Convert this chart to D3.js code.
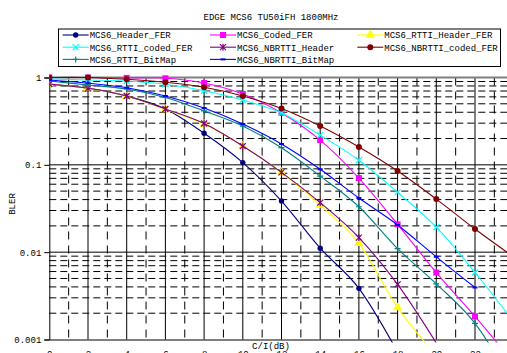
<!DOCTYPE html>
<meta charset="utf-8">
<script src="https://d3js.org/d3.v7.min.js"></script>
<style>
  body { margin: 0; background: #fff; }
  text { font-family: "Liberation Mono", monospace; font-size: 9px; fill: #000; }
</style>
<div id="my_dataviz"></div>
<script>

// x values (C/I in dB)
var ciValues = [0, 2, 4, 6, 8, 10, 12, 14, 16, 18, 20, 22, 24];

// BLER values, one array per series
var headerFer      = [0.842, 0.752, 0.614, 0.436, 0.230, 0.106, 0.0385, 0.0111, 0.00385, 0.00072];
var codedFer       = [1.0, 1.0, 0.99, 0.98, 0.865, 0.647, 0.392, 0.192, 0.0705, 0.0208, 0.00584, 0.00184, 0.00054];
var rttiHeaderFer  = [0.842, 0.748, 0.614, 0.430, 0.293, 0.164, 0.0817, 0.0346, 0.0126, 0.00232, 0.00066];
var rttiCodedFer   = [0.96, 0.936, 0.912, 0.836, 0.706, 0.552, 0.392, 0.219, 0.113, 0.0484, 0.0193, 0.00585, 0.00159];
var nbrttiHeader   = [0.842, 0.752, 0.614, 0.436, 0.297, 0.164, 0.0820, 0.0369, 0.0147, 0.00427, 0.00091];
var nbrttiCodedFer = [1.0, 1.0, 0.954, 0.881, 0.772, 0.614, 0.441, 0.278, 0.160, 0.0850, 0.0405, 0.0184, 0.0088];
var rttiBitmap     = [0.912, 0.821, 0.738, 0.590, 0.414, 0.278, 0.157, 0.0743, 0.0331, 0.0110, 0.00433, 0.00153, 0.0003];
var nbrttiBitmap   = [0.936, 0.858, 0.764, 0.614, 0.447, 0.293, 0.173, 0.0889, 0.0417, 0.0205, 0.00884, 0.00394];

var seriesNames  = ["MCS6_Header_FER", "MCS6_Coded_FER", "MCS6_RTTI_Header_FER",
                    "MCS6_RTTI_coded_FER", "MCS6_NBRTTI_Header", "MCS6_NBRTTI_coded_FER",
                    "MCS6_RTTI_BitMap", "MCS6_NBRTTI_BitMap"];
var seriesValues = [headerFer, codedFer, rttiHeaderFer, rttiCodedFer, nbrttiHeader, nbrttiCodedFer, rttiBitmap, nbrttiBitmap];
var seriesColors = ["#000080", "#ff00ff", "#ffff00", "#00ffff", "#800080", "#800000", "#008080", "#0000ff"];
var seriesMarks  = ["circle", "square", "triangle", "x", "star", "bigcircle", "plus", "dash"];

var xTicks = [0, 2, 4, 6, 8, 10, 12, 14, 16, 18, 20, 22];
var yTicks = [1, 0.1, 0.01, 0.001];

var width = 507, height = 353;
var svg = d3.select("#my_dataviz").append("svg")
    .attr("width", width).attr("height", height);

var x = d3.scaleLinear().domain([0, 24]).range([49.3, 513.7]);
var y = d3.scaleLog().domain([0.001, 1]).range([339.5, 77.5]);

// title
svg.append("text").attr("x", 271).attr("y", 20).attr("text-anchor", "middle")
  .text("EDGE MCS6 TU50iFH 1800MHz");

// grid
var grid = svg.append("g");
// minor horizontal
[0.001, 0.01, 0.1].forEach(function(d) {
  d3.range(2, 10).forEach(function(k) {
    grid.append("line")
      .attr("x1", x(0)).attr("x2", x(24))
      .attr("y1", y(d * k)).attr("y2", y(d * k))
      .attr("stroke", "#000").attr("stroke-width", 1)
      .attr("stroke-dasharray", "7,4");
  });
});
// minor vertical
d3.range(1, 24, 2).forEach(function(v) {
  grid.append("line")
    .attr("x1", x(v)).attr("x2", x(v))
    .attr("y1", y(1)).attr("y2", y(0.001))
    .attr("stroke", "#000").attr("stroke-dasharray", "8,6");
});
// major vertical
d3.range(2, 25, 2).forEach(function(v) {
  grid.append("line")
    .attr("x1", x(v)).attr("x2", x(v))
    .attr("y1", y(1)).attr("y2", y(0.001))
    .attr("stroke", "#000");
});
// major horizontal
[0.1, 0.01].forEach(function(d) {
  grid.append("line")
    .attr("x1", x(0)).attr("x2", x(24))
    .attr("y1", y(d)).attr("y2", y(d)).attr("stroke", "#000");
});
grid.append("line").attr("x1", x(0)).attr("x2", x(24))
  .attr("y1", y(1)).attr("y2", y(1)).attr("stroke", "#808080").attr("stroke-width", 2);

// axes
var yAxis = svg.append("g").attr("transform", "translate(" + x(0) + ",0)")
  .call(d3.axisLeft(y).tickValues(yTicks).tickSize(5).tickPadding(3)
    .tickFormat(function(d) { return d == 1 ? "1" : String(d); }));
yAxis.select(".domain").attr("stroke", "#000");
yAxis.selectAll("text").style("font-size", "9px").attr("dy", "0.32em");

var xAxis = svg.append("g").attr("transform", "translate(0," + y(0.001) + ")")
  .call(d3.axisBottom(x).tickValues(xTicks).tickSize(0).tickPadding(11));
xAxis.select(".domain").attr("stroke", "#000");
xAxis.selectAll("text").style("font-size", "9px");

svg.append("text").attr("x", 271).attr("y", 349).attr("text-anchor", "middle").text("C/I(dB)");
svg.append("text").attr("transform", "translate(15,204) rotate(-90)")
  .attr("text-anchor", "middle").text("BLER");

// clip
svg.append("clipPath").attr("id", "plotclip").append("rect")
  .attr("x", x(0)).attr("y", y(1) - 6).attr("width", x(24) - x(0)).attr("height", y(0.001) - y(1) + 9);

function drawMark(g, type, color) {
  var s = 3;
  if (type == "circle") {
    g.append("circle").attr("r", 2.7).attr("fill", color);
  } else if (type == "bigcircle") {
    g.append("circle").attr("r", 3).attr("fill", color);
  } else if (type == "square") {
    g.append("rect").attr("x", -3).attr("y", -3).attr("width", 6).attr("height", 6).attr("fill", color);
  } else if (type == "triangle") {
    g.append("path").attr("d", d3.symbol(d3.symbolTriangle, 38)()).attr("fill", color);
  } else if (type == "x") {
    g.append("path").attr("d", "M-3,-3L3,3M-3,3L3,-3").attr("stroke", color).attr("stroke-width", 1.2);
  } else if (type == "star") {
    g.append("path").attr("d", "M-3,-3L3,3M-3,3L3,-3M0,-3.5L0,3.5").attr("stroke", color).attr("stroke-width", 1.2);
  } else if (type == "plus") {
    g.append("path").attr("d", "M-3,0L3,0M0,-3L0,3").attr("stroke", color).attr("stroke-width", 1.2);
  } else if (type == "dash") {
    g.append("path").attr("d", "M-2.5,0L2.5,0").attr("stroke", color).attr("stroke-width", 2);
  }
}

var line = d3.line()
  .x(function(d) { return x(d.ci); })
  .y(function(d) { return y(d.v); })
  .curve(d3.curveCatmullRom.alpha(0));

var plot = svg.append("g").attr("clip-path", "url(#plotclip)");
seriesValues.forEach(function(vals, i) {
  var pts = vals.map(function(v, j) { return {ci: ciValues[j], v: v}; });
  plot.append("path").datum(pts)
    .attr("d", line).attr("fill", "none")
    .attr("stroke", seriesColors[i]).attr("stroke-width", 1.1);
  pts.filter(function(p) { return p.v >= 0.001; }).forEach(function(p) {
    var g = plot.append("g").attr("transform", "translate(" + x(p.ci) + "," + y(p.v) + ")");
    drawMark(g, seriesMarks[i], seriesColors[i]);
  });
});

// legend
var legend = svg.append("g");
legend.append("rect").attr("x", 58.5).attr("y", 29).attr("width", 442).attr("height", 37.5)
  .attr("fill", "#fff").attr("stroke", "#000");
seriesNames.forEach(function(name, i) {
  var col = i % 3, row = Math.floor(i / 3);
  var lx = 62.7 + col * 147.3, ly = 35 + row * 12.2;
  legend.append("line").attr("x1", lx).attr("x2", lx + 26).attr("y1", ly).attr("y2", ly)
    .attr("stroke", seriesColors[i]).attr("stroke-width", 1.1);
  var g = legend.append("g").attr("transform", "translate(" + (lx + 13) + "," + ly + ")");
  drawMark(g, seriesMarks[i], seriesColors[i]);
  legend.append("text").attr("x", lx + 27).attr("y", ly + 3.3).text(name);
});

</script>
